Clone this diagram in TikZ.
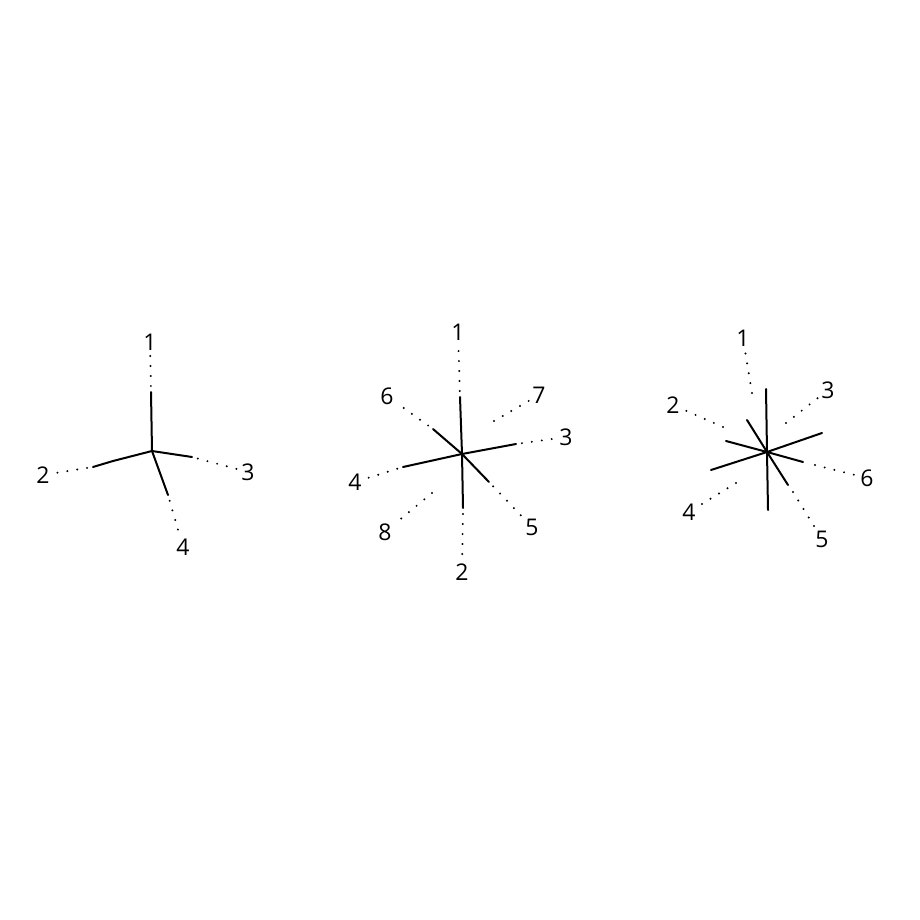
\documentclass[tikz,border=0pt]{standalone}
\usepackage{fontspec}
\setmainfont{Open Sans}
\tikzset{
	bond/.style={line width=1pt,line cap=round},
	dotline/.style={line width=1.1pt,line cap=round,dash pattern=on 0pt off 5pt},
	num/.style={inner sep=1.5pt,font=\fontsize{11.5}{13}\selectfont}
}
\begin{document}
\begin{tikzpicture}[x=0.5pt,y=-0.5pt]
	\useasboundingbox (0,0) rectangle (920,920);
	% left star
	\coordinate (c1) at (152,451);
	\node[num] at (150,342) (l11) {1};
	\node[num] at (43,475) (l12) {2};
	\node[num] at (248,472) (l13) {3};
	\node[num] at (183,547) (l14) {4};
	\coordinate (e11) at (151,392);
	\coordinate (e12) at (93,467);
	\coordinate (e13) at (192,457);
	\coordinate (e14) at (168,495);
	\draw[bond] (c1) -- (e11);
	\draw[bond] (c1) -- (113,461) -- (e12);
	\draw[bond] (c1) -- (e13);
	\draw[bond] (c1) -- (e14);
	\draw[dotline,shorten <=3pt] (e11) -- (l11);
	\draw[dotline,shorten <=3pt] (e12) -- (l12);
	\draw[dotline,shorten <=3pt] (e13) -- (l13);
	\draw[dotline,shorten <=3pt] (e14) -- (l14);
	% middle star
	\coordinate (c2) at (462,454);
	\node[num] at (458,332) (l21) {1};
	\node[num] at (462,572) (l22) {2};
	\node[num] at (566,437) (l23) {3};
	\node[num] at (355,482) (l24) {4};
	\node[num] at (532,527) (l25) {5};
	\node[num] at (387,396) (l26) {6};
	\node[num] at (539,395) (l27) {7};
	\node[num] at (385,532) (l28) {8};
	\coordinate (e21) at (460,397);
	\coordinate (e22) at (463,508);
	\coordinate (e23) at (516,444);
	\coordinate (e24) at (403,467);
	\coordinate (e25) at (489,482);
	\coordinate (e26) at (433,429);
	\coordinate (e27) at (494,421);
	\coordinate (e28) at (432,493);
	\draw[bond] (c2) -- (e21);
	\draw[bond] (c2) -- (e22);
	\draw[bond] (c2) -- (e23);
	\draw[bond] (c2) -- (e24);
	\draw[bond] (c2) -- (e25);
	\draw[bond] (c2) -- (e26);
	\draw[dotline,shorten <=3pt] (e21) -- (l21);
	\draw[dotline,shorten <=3pt] (e22) -- (l22);
	\draw[dotline,shorten <=3pt] (e23) -- (l23);
	\draw[dotline,shorten <=3pt] (e24) -- (l24);
	\draw[dotline,shorten <=3pt] (e25) -- (l25);
	\draw[dotline,shorten <=3pt] (e26) -- (l26);
	\draw[dotline] (e27) -- (l27);
	\draw[dotline] (e28) -- (l28);
	% right star
	\coordinate (c3) at (767,452);
	\draw[bond] (766,389) -- (c3) -- (768,510);
	\draw[bond] (711,470) -- (c3) -- (822,433);
	\draw[bond] (726,441) -- (c3) -- (803,462);
	\draw[bond] (747,420) -- (c3) -- (788,485);
	\node[num] at (743,338) (l31) {1};
	\node[num] at (673,405) (l32) {2};
	\node[num] at (828,390) (l33) {3};
	\node[num] at (689,512) (l34) {4};
	\node[num] at (822,539) (l35) {5};
	\node[num] at (867,478) (l36) {6};
	\coordinate (e31) at (752,393);
	\coordinate (e32) at (723,427);
	\coordinate (e33) at (786,423);
	\coordinate (e34) at (736,483);
	\coordinate (e35) at (793,492);
	\coordinate (e36) at (815,465);
	\draw[dotline] (e31) -- (l31);
	\draw[dotline] (e32) -- (l32);
	\draw[dotline] (e33) -- (l33);
	\draw[dotline] (e34) -- (l34);
	\draw[dotline] (e35) -- (l35);
	\draw[dotline] (e36) -- (l36);
\end{tikzpicture}
\end{document}
